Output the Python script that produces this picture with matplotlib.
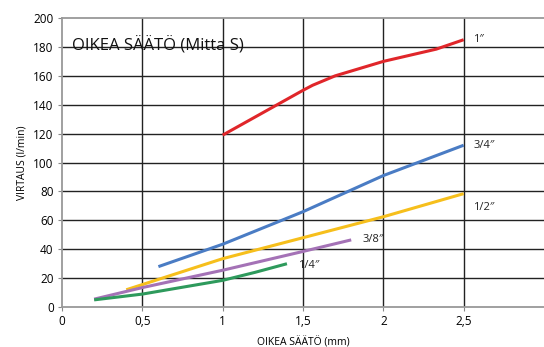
import matplotlib
matplotlib.use("Agg")
import matplotlib.pyplot as plt

plt.rcParams['font.family'] = ['Open Sans', 'DejaVu Sans']

# sizes and measured points (mm, l/min)
x_1 = [1.0, 1.25, 1.5, 1.56, 1.7, 2.0, 2.33, 2.5]
y_1 = [119, 134.5, 150, 153.5, 160, 170, 178.5, 185]
x_34 = [0.6, 1.0, 1.5, 2.0, 2.5]
y_34 = [28, 43.5, 66, 91, 112]
x_12 = [0.4, 1.0, 1.5, 2.0, 2.5]
y_12 = [12, 33.5, 48, 62.5, 78.5]
x_38 = [0.2, 0.5, 1.0, 1.5, 1.8]
y_38 = [5.5, 13.5, 25.5, 38.5, 46.5]
x_14 = [0.2, 0.5, 1.0, 1.2, 1.4]
y_14 = [5, 9, 18.5, 24, 30]

series = [
    (x_1, y_1, '#e0262a', '1\u2033', (2.56, 185)),
    (x_34, y_34, '#4a7cc4', '3/4\u2033', (2.56, 112)),
    (x_12, y_12, '#f6bf1c', '1/2\u2033', (2.56, 69)),
    (x_38, y_38, '#a472b6', '3/8\u2033', (1.87, 47)),
    (x_14, y_14, '#2e9a5c', '1/4\u2033', (1.47, 29)),
]

fig = plt.figure(figsize=(5.44, 3.47), dpi=100)
ax = fig.add_axes([0.114, 0.115, 0.886, 0.833])

for y in range(20, 200, 20):
    ax.axhline(y, color='#222222', lw=1.0, zorder=1)
for x in [0.5, 1, 1.5, 2, 2.5]:
    ax.axvline(x, color='#222222', lw=1.0, zorder=1)

for xs, ys, c, lab, pos in series:
    ax.plot(xs, ys, color=c, lw=2.2, zorder=3, solid_capstyle='butt', solid_joinstyle='round')
    ax.text(pos[0], pos[1], lab, fontsize=8, va='center', ha='left', color='#222222')

ax.set_xlim(0, 3.0)
ax.set_ylim(0, 200)
ax.set_xticks([0, 0.5, 1, 1.5, 2, 2.5])
ax.set_xticklabels(['0', '0,5', '1', '1,5', '2', '2,5'])
ax.set_yticks(range(0, 201, 20))
ax.tick_params(labelsize=8.5, length=3, color='#888888', pad=3)

for s in ['left', 'bottom', 'top']:
    ax.spines[s].set_color('#999999')
    ax.spines[s].set_linewidth(1.3)
ax.spines['right'].set_visible(False)

ax.set_xlabel('OIKEA SÄÄTÖ (mm)', fontsize=7.5, labelpad=6)
ax.set_ylabel('VIRTAUS (l/min)', fontsize=7.5, labelpad=4)
ax.text(0.06, 181, 'OIKEA SÄÄTÖ (Mitta S)', fontsize=12, va='center', ha='left', color='#111111', zorder=4)

fig.savefig('out.png', dpi=100)
